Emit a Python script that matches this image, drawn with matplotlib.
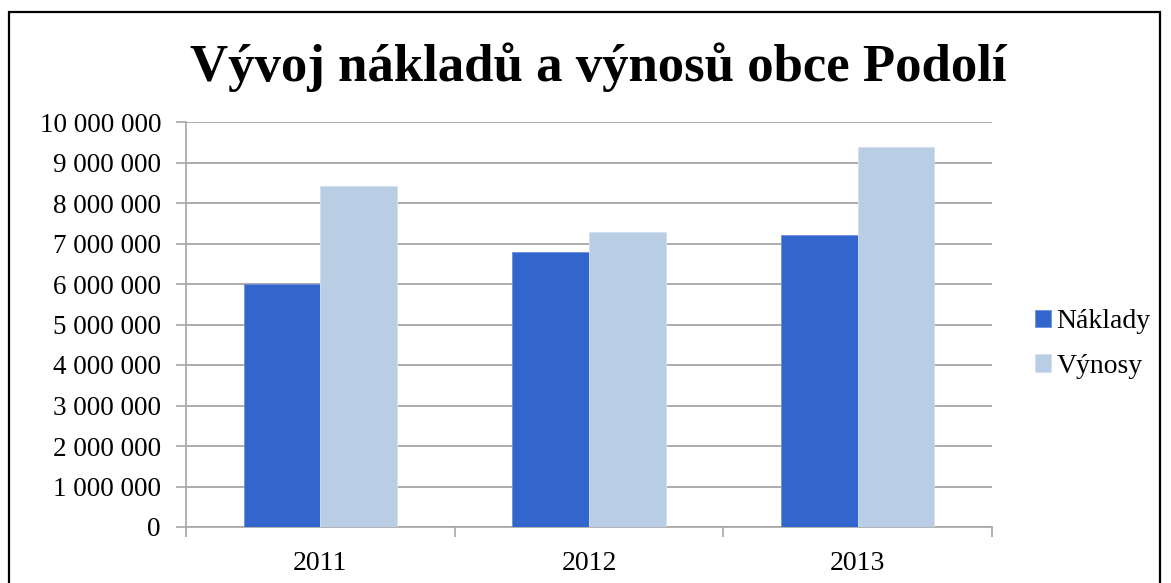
import numpy as np
import matplotlib.pyplot as plt
from matplotlib.patches import Rectangle
from matplotlib.ticker import FuncFormatter, FixedLocator

years = ['2011', '2012', '2013']
naklady = [6000000, 6790000, 7220000]
vynosy = [8420000, 7280000, 9380000]

plt.rcParams['font.family'] = ['Liberation Serif', 'DejaVu Serif']

W, H = 1171, 583
fig = plt.figure(figsize=(W / 100, H / 100), dpi=100)
# black frame around the whole chart (bottom is cut off in the original)
fig.patches.append(Rectangle((9 / W, -0.05), 1151 / W, 1.05 - 12 / H,
                             transform=fig.transFigure, fill=False,
                             edgecolor='black', linewidth=1.6))

ax = fig.add_axes([186 / W, 1 - 527 / H, 806 / W, 405 / H])

x = np.arange(len(years))
w = 1 / 3.5
ax.bar(x - w / 2, naklady, w, color='#3366CC', edgecolor='#6d8fdc', linewidth=0.6,
       label='Náklady', zorder=3)
ax.bar(x + w / 2, vynosy, w, color='#B9CDE5', edgecolor='#d3e0f0', linewidth=0.6,
       label='Výnosy', zorder=3)

ax.set_xlim(-0.5, len(years) - 0.5)
ax.set_ylim(0, 10000000)
ax.set_yticks(np.arange(0, 10000001, 1000000))
ax.yaxis.set_major_formatter(FuncFormatter(lambda v, p: f'{v:,.0f}'.replace(',', ' ')))
ax.grid(axis='y', color='#a6a6a6', linewidth=1.3, zorder=0)

ax.set_xticks(x)
ax.set_xticklabels(years)
ax.xaxis.set_minor_locator(FixedLocator(np.arange(-0.5, len(years), 1)))
ax.tick_params(axis='x', which='major', length=0, pad=17, labelsize=20)
ax.tick_params(axis='x', which='minor', length=7, width=1.2, color='#a6a6a6')
ax.tick_params(axis='y', length=7, width=1.2, color='#a6a6a6', pad=11, labelsize=19.5)

for s in ['top', 'right']:
    ax.spines[s].set_visible(False)
for s in ['left', 'bottom']:
    ax.spines[s].set_color('#a6a6a6')
    ax.spines[s].set_linewidth(1.2)

fig.text(598 / W, 1 - 81 / H, 'Vývoj nákladů a výnosů obce Podolí',
         ha='center', va='baseline', fontsize=38, fontweight='bold')

fig.legend(loc='center left', bbox_to_anchor=(1035 / W, 1 - 344 / H), frameon=False,
           fontsize=20, handlelength=0.58, handleheight=0.58, handletextpad=0.2,
           labelspacing=0.7, borderpad=0, borderaxespad=0)

fig.savefig('out.png', dpi=100)
